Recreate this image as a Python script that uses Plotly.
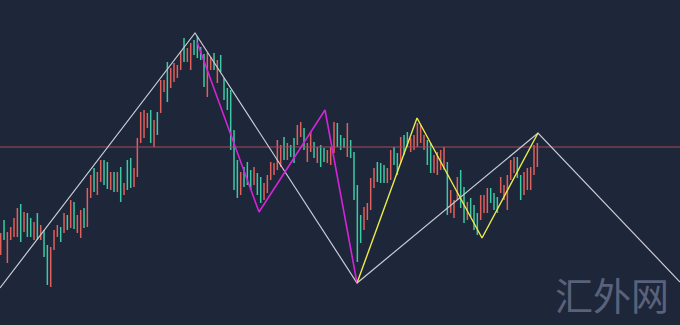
import plotly.graph_objects as go

# ---- bar data (index, high, low) in price units; direction u = up (red), d = down (teal)
highs = [92, 105, 93, 98, 107, 117, 121, 113, 112, 107, 103, 112, 100, 95, 80, 78, 95, 100, 98, 112,
         110, 125, 123, 110, 115, 117, 137, 150, 157, 153, 165, 165, 163, 153, 153, 153, 158, 142, 165, 167,
         157, 187, 213, 215, 212, 215, 205, 213, 245, 245, 263, 257, 262, 260, 274, 287, 277, 282, 285, 289,
         278, 271, 272, 268, 272, 265, 270, 247, 237, 235, 195, 165, 153, 158, 163, 155, 158, 152, 148, 142,
         150, 163, 162, 185, 180, 188, 182, 180, 187, 200, 203, 197, 182, 193, 183, 178, 180, 177, 175, 178,
         203, 202, 190, 187, 202, 185, 173, 140, 110, 118, 122, 147, 157, 163, 162, 160, 157, 175, 178, 172,
         188, 190, 193, 187, 190, 202, 200, 190, 185, 182, 170, 173, 175, 178, 163, 135, 125, 148, 155, 138,
         123, 127, 120, 112, 130, 130, 137, 137, 132, 128, 148, 140, 150, 165, 168, 168, 150, 153, 157, 158,
         180, 182]
lows = [70, 85, 62, 85, 88, 88, 83, 93, 88, 88, 85, 85, 85, 68, 40, 38, 75, 88, 83, 92,
        95, 97, 96, 92, 87, 97, 98, 127, 133, 130, 143, 140, 136, 135, 133, 133, 123, 130, 135, 137,
        138, 148, 182, 187, 197, 182, 178, 190, 212, 233, 223, 237, 243, 247, 255, 263, 263, 255, 270, 267,
        265, 238, 228, 255, 255, 242, 253, 225, 215, 175, 135, 127, 130, 138, 140, 135, 140, 130, 122, 125,
        132, 145, 150, 155, 158, 165, 165, 168, 162, 180, 188, 175, 163, 173, 167, 162, 158, 163, 162, 160,
        172, 178, 175, 177, 168, 167, 125, 63, 82, 95, 105, 115, 137, 143, 142, 142, 142, 145, 160, 150,
        162, 170, 178, 173, 175, 178, 182, 175, 160, 152, 152, 150, 155, 155, 110, 112, 107, 125, 117, 102,
        105, 108, 95, 90, 105, 112, 112, 122, 115, 112, 132, 125, 115, 145, 152, 147, 125, 130, 135, 135,
        150, 158]
direction = list("uduuuududd" "ududduuudu" "duduuduudu" "uddudududd" "uuuuududuu"
                 "duuuuduudd" "dduududddd" "dduddduddu" "uuuuududdu" "uduududduu"
                 "uddduddddu" "uuuddduudd" "udduuuuudd" "uuuuduuudd" "uddduuuddd"
                 "uuuuudduuu" "uu")

# ---- zigzag vertices (bar index, price)
white_x = [-0.21, 58.3, 106.9, 161.2, 203.8]
white_y = [37, 292, 42, 192, 43]
magenta_x = [58.9, 77.5, 97.3, 106.9]
magenta_y = [283, 113, 215, 42]
yellow_x = [106.9, 124.9, 144.4, 161.2]
yellow_y = [42, 207, 87, 192]
level_price = 178

n = len(highs)
idx = list(range(n))
opens = [lows[i] if direction[i] == "u" else highs[i] for i in idx]
closes = [highs[i] if direction[i] == "u" else lows[i] for i in idx]

BG = "#1e263a"
fig = go.Figure()
fig.add_trace(go.Ohlc(
    x=idx, open=opens, high=highs, low=lows, close=closes, tickwidth=0,
    increasing=dict(line=dict(color="#e0605a", width=1.5)),
    decreasing=dict(line=dict(color="#3ccaa2", width=1.5)),
    hoverinfo="skip", showlegend=False))
fig.add_trace(go.Scatter(x=[-0.21, 203.8], y=[level_price, level_price], mode="lines",
                         line=dict(color="#a84a5c", width=1), hoverinfo="skip", showlegend=False))
fig.add_trace(go.Scatter(x=white_x, y=white_y, mode="lines",
                         line=dict(color="#c9ccd4", width=1.2), hoverinfo="skip", showlegend=False))
fig.add_trace(go.Scatter(x=magenta_x, y=magenta_y, mode="lines",
                         line=dict(color="#d424d8", width=1.6), hoverinfo="skip", showlegend=False))
fig.add_trace(go.Scatter(x=yellow_x, y=yellow_y, mode="lines",
                         line=dict(color="#ecec48", width=1.4), hoverinfo="skip", showlegend=False))

fig.add_annotation(text="汇外网", xref="paper", yref="paper", x=0.9, y=0.098,
                   showarrow=False, xanchor="center", yanchor="middle",
                   font=dict(family="Noto Sans CJK SC", size=38, color="#59627a"))

fig.update_layout(
    width=680, height=325, margin=dict(l=0, r=0, t=0, b=0),
    paper_bgcolor=BG, plot_bgcolor=BG,
    xaxis=dict(range=[-0.21, 203.8], visible=False, rangeslider=dict(visible=False), fixedrange=True),
    yaxis=dict(range=[0, 325], visible=False, fixedrange=True),
)
fig.write_html("out.html")
